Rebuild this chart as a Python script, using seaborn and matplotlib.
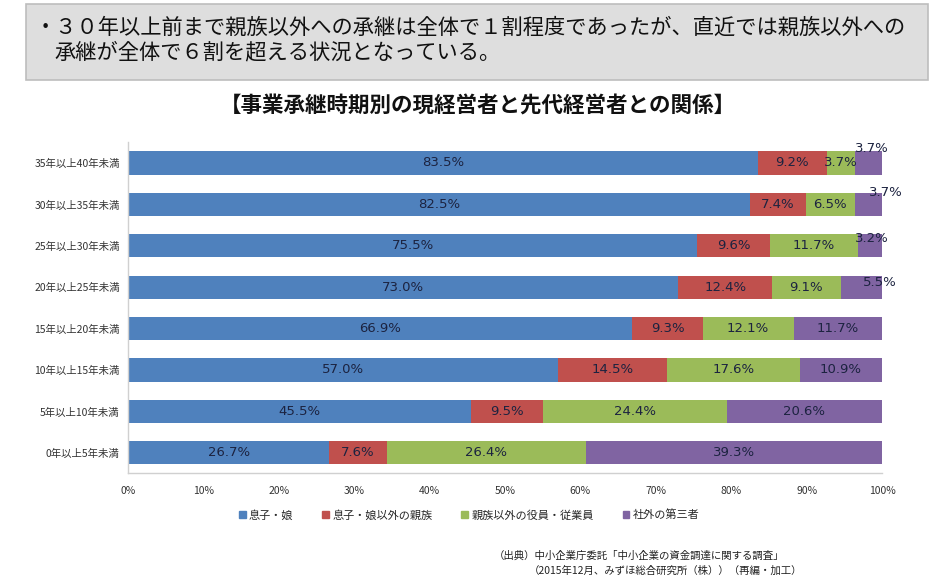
import matplotlib
matplotlib.use("Agg")
import matplotlib.pyplot as plt
import matplotlib.patches as mpatches
import numpy as np
import pandas as pd
import seaborn as sns

# data (top row first)
periods = ["35年以上40年未満", "30年以上35年未満", "25年以上30年未満", "20年以上25年未満",
           "15年以上20年未満", "10年以上15年未満", "5年以上10年未満", "0年以上5年未満"]
series_names = ["息子・娘", "息子・娘以外の親族", "親族以外の役員・従業員", "社外の第三者"]
son_daughter = [83.5, 82.5, 75.5, 73.0, 66.9, 57.0, 45.5, 26.7]
other_relatives = [9.2, 7.4, 9.6, 12.4, 9.3, 14.5, 9.5, 7.6]
employees = [3.7, 6.5, 11.7, 9.1, 12.1, 17.6, 24.4, 26.4]
third_party = [3.7, 3.7, 3.2, 5.5, 11.7, 10.9, 20.6, 39.3]
x_ticks = [0, 10, 20, 30, 40, 50, 60, 70, 80, 90, 100]

colors = ["#4F81BD", "#C0504D", "#9BBB59", "#8064A2"]
label_color = "#1c2340"

sns.set_style("white")
plt.rcParams["font.family"] = ["Noto Sans CJK JP", "DejaVu Sans"]

df = pd.DataFrame({"period": periods, series_names[0]: son_daughter,
                   series_names[1]: other_relatives, series_names[2]: employees,
                   series_names[3]: third_party})
vals = df[series_names].to_numpy()
cum = np.cumsum(vals, axis=1)
cum[:, -1] = np.minimum(cum[:, -1], 100)

fig = plt.figure(figsize=(9.5, 5.82), dpi=100)
ax = fig.add_axes([0.1347, 0.1865, 0.7937, 0.569])

# stacked bars: draw cumulative totals from the back to the front
for k in range(3, -1, -1):
    sns.barplot(x=cum[:, k], y=df["period"], color=colors[k], orient="h",
                width=0.56, saturation=1, ax=ax, edgecolor="none")

# segment labels
outside = {(0, 3): (-10, 14), (1, 3): (4, 12), (2, 3): (-10, 7), (3, 3): (-2, 5)}
for i in range(len(periods)):
    left = 0
    for k in range(4):
        v = vals[i, k]
        txt = f"{v:.1f}%"
        if (i, k) in outside:
            dx, dy = outside[(i, k)]
            ax.annotate(txt, (100, i), xytext=(dx, dy), textcoords="offset pixels",
                        ha="center", va="center", fontsize=9.5, color=label_color,
                        family="DejaVu Sans")
        else:
            ax.text(left + v / 2, i, txt, ha="center", va="center", fontsize=9.5,
                    color=label_color, family="DejaVu Sans")
        left += v

ax.set_xlim(0, 100)
ax.set_ylim(7.5, -0.5)
ax.set_xticks(x_ticks)
ax.set_xticklabels([f"{t}%" for t in x_ticks], fontsize=7.5, color="#333333")
ax.tick_params(axis="y", labelsize=7.5, labelcolor="#333333", length=0, pad=6)
ax.tick_params(axis="x", length=0, pad=9)
ax.set_xlabel("")
ax.set_ylabel("")
for s in ["top", "right"]:
    ax.spines[s].set_visible(False)
for s in ["left", "bottom"]:
    ax.spines[s].set_color("#d0d0d0")
    ax.spines[s].set_linewidth(1)

# legend
handles = [mpatches.Patch(color=c, label=n) for c, n in zip(colors, series_names)]
fig.legend(handles=handles, loc="center", bbox_to_anchor=(0.494, 0.115), ncol=4,
           frameon=False, fontsize=8, handlelength=0.6, handleheight=0.6,
           handletextpad=0.3, columnspacing=2.6)

# header box
box = mpatches.Rectangle((0.027, 0.863), 0.950, 0.130, transform=fig.transFigure,
                         facecolor="#dedede", edgecolor="#bdbdbd", linewidth=1.2)
fig.patches.append(box)
fig.text(0.036, 0.953, "・３０年以上前まで親族以外への承継は全体で１割程度であったが、直近では親族以外への",
         fontsize=15.3, va="center", ha="left", color="#111111")
fig.text(0.057, 0.910, "承継が全体で６割を超える状況となっている。",
         fontsize=15.3, va="center", ha="left", color="#111111")

fig.text(0.503, 0.818, "【事業承継時期別の現経営者と先代経営者との関係】", fontsize=15.5,
         fontweight="bold", ha="center", va="center", color="#111111")

fig.text(0.520, 0.046, "（出典）中小企業庁委託「中小企業の資金調達に関する調査」",
         fontsize=7.5, ha="left", va="center", color="#222222")
fig.text(0.557, 0.019, "（2015年12月、みずほ総合研究所（株））（再編・加工）",
         fontsize=7.5, ha="left", va="center", color="#222222")

fig.savefig("out.png", dpi=100, facecolor="white")
